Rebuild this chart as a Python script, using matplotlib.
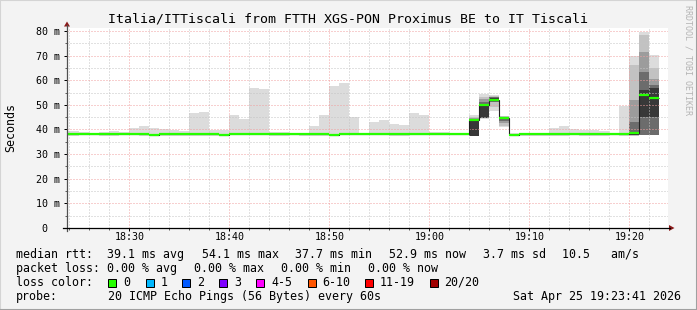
import numpy as np
import matplotlib
matplotlib.use("Agg")
import matplotlib.pyplot as plt
from matplotlib.patches import Rectangle, Polygon
from matplotlib.lines import Line2D

# ---------------- data (minutes after 18:00) ----------------
minutes = list(range(23, 83))
rtt_max = [39.4, 39.4, 38.9, 38.6, 38.9, 39.4, 38.8, 40.6, 41.4, 40.6,
           40.2, 39.8, 39.4, 46.7, 47.1, 39.8, 39.8, 45.9, 44.3, 56.9,
           56.4, 38.9, 38.9, 38.6, 38.6, 41.4, 45.9, 57.7, 58.9, 45.1,
           38.6, 43.0, 43.9, 42.2, 41.8, 46.7, 45.9, 39.0, 39.0, 38.6,
           38.6, 45.9, 54.4, 54.2, 45.5, 38.6, 38.4, 38.4, 38.4, 40.6,
           41.4, 40.2, 39.8, 39.8, 39.4, 38.6, 49.5, 69.8, 79.7, 70.3]
rtt_min = [37.2, 37.2, 37.6, 37.7, 37.3, 37.2, 37.6, 37.6, 37.5, 37.2,
           37.2, 37.2, 37.5, 37.2, 37.5, 37.4, 37.2, 37.6, 37.6, 37.6,
           37.6, 37.5, 37.5, 37.6, 37.4, 37.3, 37.5, 37.2, 37.6, 37.6,
           37.6, 37.6, 37.6, 37.2, 37.4, 37.6, 37.6, 37.6, 37.6, 37.6,
           37.6, 37.3, 44.4, 47.6, 40.9, 37.6, 37.4, 37.4, 37.2, 37.5,
           37.5, 37.6, 37.2, 37.5, 37.5, 37.6, 37.5, 37.4, 37.6, 37.6]
rtt_median = [38.0, 38.0, 38.0, 38.0, 38.0, 38.0, 38.0, 38.0, 38.0, 37.7,
              38.0, 38.0, 38.0, 38.0, 38.0, 38.0, 37.9, 38.0, 38.0, 38.0,
              38.0, 38.0, 38.0, 38.0, 38.0, 38.0, 38.0, 37.7, 38.0, 38.0,
              38.0, 38.0, 38.0, 38.0, 38.0, 38.0, 38.0, 38.0, 38.0, 38.0,
              38.0, 43.7, 50.0, 52.0, 44.7, 37.9, 38.0, 38.0, 38.0, 38.0,
              38.0, 38.0, 38.0, 38.0, 38.0, 38.0, 38.0, 38.6, 54.1, 52.9]

# inner smoke layers for the minutes with wide spread
detail_minutes = [64, 65, 66, 67, 80, 81, 82]
layer1_lo = [37.3, 44.5, 49.0, 41.5, 37.5, 37.7, 37.7]
layer1_hi = [45.0, 53.3, 53.6, 45.3, 66.2, 78.4, 64.8]
layer2_lo = [37.4, 44.6, 51.0, 42.8, 37.6, 37.8, 37.8]
layer2_hi = [44.5, 52.3, 53.2, 45.1, 52.0, 71.6, 60.5]
layer3_lo = [37.4, 44.6, 51.3, 43.6, 37.7, 37.8, 37.9]
layer3_hi = [44.2, 51.3, 53.0, 45.0, 43.2, 63.5, 58.1]
layer4_lo = [37.5, 44.7, 51.5, 44.2, 37.8, 45.0, 45.2]
layer4_hi = [43.9, 50.4, 52.6, 44.9, 39.1, 56.0, 57.0]

ytick_vals = [0, 10, 20, 30, 40, 50, 60, 70, 80]
ytick_labels = ["0  ", "10 m", "20 m", "30 m", "40 m", "50 m", "60 m", "70 m", "80 m"]
xtick_vals = [30, 40, 50, 60, 70, 80]
xtick_labels = ["18:30", "18:40", "18:50", "19:00", "19:10", "19:20"]

loss_labels = ["0", "1", "2", "3", "4-5", "6-10", "11-19", "20/20"]
loss_colors = ["#26ff00", "#00b8ff", "#0059ff", "#7e00ff", "#ff00ff",
               "#ff5500", "#ff0000", "#a10000"]

# ---------------- figure ----------------
W, H = 697, 310
MONO = "DejaVu Sans Mono"
plt.rcParams['font.family'] = [MONO, 'DejaVu Sans']
fig = plt.figure(figsize=(W / 100, H / 100), dpi=100)
fig.patch.set_facecolor("#f3f3f3")


def fx(x):
    return x / W


def fy(y):
    return 1 - y / H


ax = fig.add_axes([fx(67), fy(228), (668 - 67) / W, 200 / H])
ax.set_facecolor("white")
ax.set_xlim(23.77, 83.87)
ax.set_ylim(0, 81.2)

mins = np.array(minutes, dtype=float)
mx = np.array(rtt_max)
mn = np.array(rtt_min)
med = np.array(rtt_median)

# smoke
ax.bar(mins, mx - mn, bottom=mn, width=1, align="edge",
       color="#dcdcdc", linewidth=0, zorder=1)
dm = np.array(detail_minutes, dtype=float)
for lo, hi, col in [(layer1_lo, layer1_hi, "#c2c2c2"),
                    (layer2_lo, layer2_hi, "#9c9c9c"),
                    (layer3_lo, layer3_hi, "#6c6c6c"),
                    (layer4_lo, layer4_hi, "#383838")]:
    lo = np.array(lo)
    hi = np.array(hi)
    ax.bar(dm, hi - lo, bottom=lo, width=1, align="edge",
           color=col, linewidth=0, zorder=1.1)

# median
edges = np.append(mins, mins[-1] + 1)
ax.stairs(med, edges, baseline=None, color="#202020", linewidth=0.8, zorder=3)
ax.hlines(med, mins, mins + 1, color="#26ff00", linewidth=1.6, zorder=3.5,
          capstyle="butt")

# grid
ax.set_axisbelow(False)
ax.set_yticks(ytick_vals, ytick_labels)
ax.set_yticks([5, 15, 25, 35, 45, 55, 65, 75], minor=True)
ax.set_xticks(xtick_vals, xtick_labels)
ax.set_xticks(np.arange(24, 84, 2), minor=True)
ax.grid(which="major", color="#f0a0a0", linestyle=(0, (1, 2)), linewidth=0.72)
ax.grid(which="minor", color="#c4c4c4", linestyle=(0, (1, 2)), linewidth=0.72)
ax.tick_params(axis="y", which="major", length=2.16, width=0.72, pad=2.9,
               labelsize=7.2, colors="#000000")
ax.tick_params(axis="y", which="minor", length=1.44, width=0.72, colors="#606060")
ax.tick_params(axis="x", which="major", length=2.16, width=0.72, pad=0.5,
               labelsize=7.2, colors="#000000")
ax.tick_params(axis="x", which="minor", length=1.44, width=0.72, colors="#606060")
for s in ax.spines.values():
    s.set_visible(False)

# axis lines and arrows
fig.add_artist(Line2D([fx(67), fx(67)], [fy(231), fy(25)], color="#505050",
                      linewidth=0.9))
fig.add_artist(Line2D([fx(63), fx(670)], [fy(228), fy(228)], color="#000000",
                      linewidth=0.9))
fig.add_artist(Polygon([[fx(64), fy(26.5)], [fx(70), fy(26.5)], [fx(67), fy(21.5)]],
                       closed=True, color="#8b1a1a", linewidth=0))
fig.add_artist(Polygon([[fx(669), fy(225)], [fx(669), fy(231)], [fx(674.5), fy(228)]],
                       closed=True, color="#8b1a1a", linewidth=0))

# titles
fig.text(fx(347.5), fy(19), "Italia/ITTiscali from FTTH XGS-PON Proximus BE to IT Tiscali",
         ha="center", va="center", fontsize=9.55, family=MONO)
fig.text(fx(10.5), fy(127.5), "Seconds", rotation=90, ha="center", va="center",
         fontsize=8.4, family=MONO)
fig.text(fx(688), fy(5), "RRDTOOL / TOBI OETIKER", rotation=270, ha="center",
         va="top", fontsize=6.0, family=MONO, color="#b4b4b4")

# legend
LS = 8.4
r1, r2, r3, r4 = 254.3, 268.3, 282.3, 296.3
row1 = [(16, "median rtt:  39.1 ms avg"), (201.7, "54.1 ms max"),
        (295, "37.7 ms min"), (388.9, "52.9 ms now"), (482.7, "3.7 ms sd"),
        (562.5, "10.5   am/s")]
row2 = [(16, "packet loss: 0.00 % avg"), (194.1, "0.00 % max"),
        (281, "0.00 % min"), (367.8, "0.00 % now")]
for x, t in row1:
    fig.text(fx(x), fy(r1), t, ha="left", va="center", fontsize=LS, family=MONO)
for x, t in row2:
    fig.text(fx(x), fy(r2), t, ha="left", va="center", fontsize=LS, family=MONO)
fig.text(fx(16), fy(r3), "loss color:", ha="left", va="center", fontsize=LS, family=MONO)
box_x = [108, 146, 182, 219, 256, 307.5, 365, 430]
lab_x = [123.5, 161, 197, 234, 271, 322, 380, 444]
for bx, lx, lab, col in zip(box_x, lab_x, loss_labels, loss_colors):
    fig.add_artist(Rectangle((fx(bx), fy(286.5)), 8 / W, 8 / H, facecolor=col,
                             edgecolor="#000000", linewidth=0.72))
    fig.text(fx(lx), fy(r3), lab, ha="left", va="center", fontsize=LS, family=MONO)
fig.text(fx(16), fy(r4), "probe:", ha="left", va="center", fontsize=LS, family=MONO)
fig.text(fx(107.5), fy(r4), "20 ICMP Echo Pings (56 Bytes) every 60s", ha="left",
         va="center", fontsize=LS, family=MONO)
fig.text(fx(681), fy(r4), "Sat Apr 25 19:23:41 2026", ha="right", va="center",
         fontsize=LS, family=MONO)

# outer frame
fig.add_artist(Line2D([0, 0, 1], [0, 1, 1], color="#d4d4d4", linewidth=1.5,
                      transform=fig.transFigure))
fig.add_artist(Line2D([0, 1, 1], [0, 0, 1], color="#a0a0a0", linewidth=1.5,
                      transform=fig.transFigure))

fig.savefig("out.png", dpi=100, facecolor=fig.get_facecolor())
